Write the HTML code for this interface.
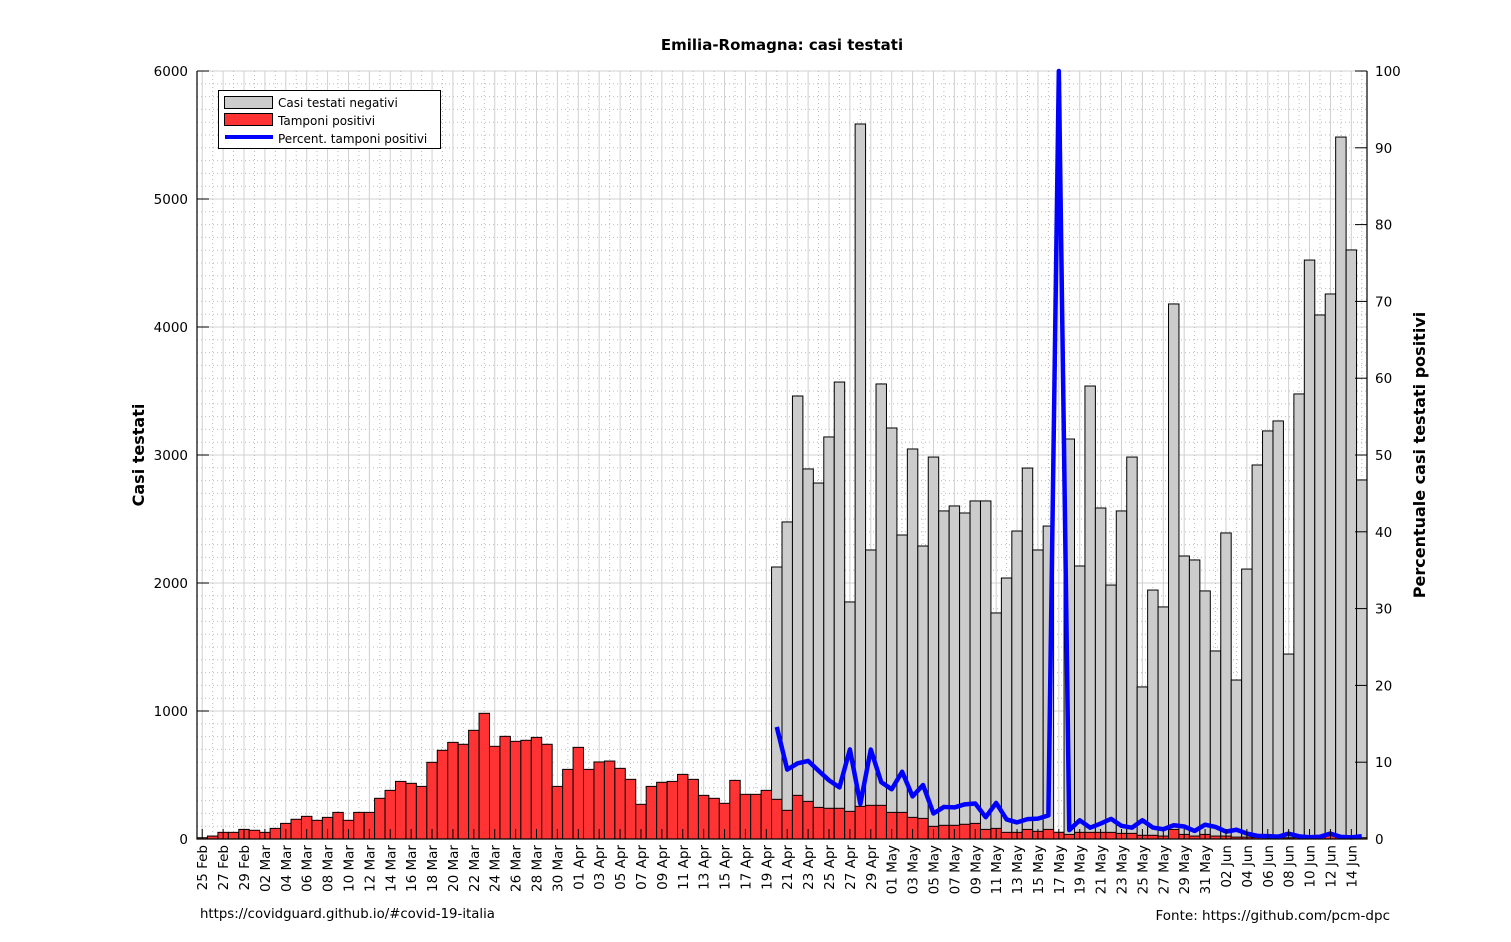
<!DOCTYPE html>
<html><head><meta charset="utf-8"><style>
body{margin:0;background:#fff;}
svg{display:block;font-family:"DejaVu Sans","Liberation Sans",sans-serif;}
</style></head><body>
<svg id="chart" width="1511" height="942" xmlns="http://www.w3.org/2000/svg">
<rect width="1511" height="942" fill="#fff"/>
<g id="grid"></g>
<g id="bars"></g>
<g id="line"></g>
<g id="axes"></g>
<text x="782" y="50" text-anchor="middle" font-size="15" font-weight="bold">Emilia-Romagna: casi testati</text>
<text transform="translate(144,455) rotate(-90)" text-anchor="middle" font-size="16" font-weight="bold">Casi testati</text>
<text transform="translate(1425,455) rotate(-90)" text-anchor="middle" font-size="16" font-weight="bold">Percentuale casi testati positivi</text>
<text x="200" y="918" font-size="13.3">https://covidguard.github.io/#covid-19-italia</text>
<text x="1390" y="920" text-anchor="end" font-size="13.5">Fonte: https://github.com/pcm-dpc</text>
<g>
<rect x="218.5" y="90.5" width="222" height="58" fill="#fff" stroke="#000"/>
<rect x="224.5" y="96.5" width="48" height="12" fill="#cccccc" stroke="#000"/>
<text x="278" y="107" font-size="12">Casi testati negativi</text>
<rect x="224.5" y="113.5" width="48" height="12" fill="#ff3333" stroke="#000"/>
<text x="278" y="125" font-size="12">Tamponi positivi</text>
<rect x="225" y="135" width="48" height="4" fill="#0000ff"/>
<text x="278" y="143" font-size="12">Percent. tamponi positivi</text>
</g>
</svg>
<script>
const startDate = [2020, 1, 25];
const positivi = [10,23,52,52,75,68,52,83,122,154,177,146,169,208,146,208,208,318,380,450,435,411,599,693,755,740,849,982,724,802,763,771,794,740,411,544,716,544,602,609,552,466,271,411,443,450,505,466,341,318,279,458,349,349,380,310,224,341,294,247,240,240,216,255,263,263,208,208,169,161,99,107,107,115,122,75,83,52,52,75,60,75,52,36,52,52,52,52,44,44,29,29,23,75,36,23,36,23,23,15,15,12,12,10,10,12,10,12,30,15,10,10];
const totali = [0,0,0,0,0,0,0,0,0,0,0,0,0,0,0,0,0,0,0,0,0,0,0,0,0,0,0,0,0,0,0,0,0,0,0,0,0,0,0,0,0,0,0,0,0,0,0,0,0,0,0,0,0,0,0,2125,2477,3461,2891,2781,3141,3570,1852,5586,2258,3555,3211,2375,3047,2289,2984,2563,2602,2547,2641,2641,1766,2039,2406,2898,2258,2445,52,3125,2133,3539,2586,1984,2563,2984,1188,1945,1813,4180,2211,2180,1938,1469,2391,1242,2109,2922,3188,3266,1445,3477,4523,4094,4258,5484,4602,2805];
const leftTicks = [0,1000,2000,3000,4000,5000,6000];
const rightTicks = [0,10,20,30,40,50,60,70,80,90,100];
const months = ["Jan","Feb","Mar","Apr","May","Jun"];

const NS="http://www.w3.org/2000/svg";
const X0=197,X1=1367,Y0=839,Y1=71,N=positivi.length,BW=(X1-X0)/N;
const yL=v=>Y0-(v/6000)*(Y0-Y1);
const yR=v=>Y0-(v/100)*(Y0-Y1);
const xC=i=>X0+BW*(i+0.5);
function mk(tag,attrs,parent){const e=document.createElementNS(NS,tag);for(const k in attrs)e.setAttribute(k,attrs[k]);parent.appendChild(e);return e;}
const grid=document.getElementById('grid'),bars=document.getElementById('bars'),lineG=document.getElementById('line'),axes=document.getElementById('axes');
for(let v=0;v<=6000;v+=100){const y=yL(v);const major=v%1000===0;
 const l=mk('line',{x1:X0,x2:X1,y1:y,y2:y,stroke:major?'#d0d0d0':'#bbbbbb','stroke-width':1,'stroke-dasharray':major?'':'1,3'},grid);
 
 }
for(let i=0;i<N;i++){const x=xC(i);const major=i%2===0;
 const l=mk('line',{x1:x,x2:x,y1:Y1,y2:Y0,stroke:major?'#d0d0d0':'#bbbbbb','stroke-width':1,'stroke-dasharray':major?'':'1,3'},grid);
 
 }
const pct=[];
for(let i=0;i<N;i++){
 const tot=totali[i];
 if(tot>0){const r=mk('rect',{x:X0+BW*i,y:yL(tot),width:BW,height:Y0-yL(tot),fill:'#cccccc',stroke:'#000','stroke-width':1},bars);
  
  
  pct.push([xC(i),yR(Math.min(100,positivi[i]/tot*100))]);}
 const p=mk('rect',{x:X0+BW*i,y:yL(positivi[i]),width:BW,height:Y0-yL(positivi[i]),fill:'#ff3333',stroke:'#000','stroke-width':1},bars);
 
 
}
const pl=mk('polyline',{points:pct.map(p=>p.join(',')).join(' '),fill:'none',stroke:'#0000ff','stroke-width':4.5,'stroke-linejoin':'round'},lineG);


const frame=mk('path',{d:`M${X0},${Y1}V${Y0}H${X1}V${Y1}`,fill:'none',stroke:'#000','stroke-width':1.2},axes);


leftTicks.forEach(v=>{const y=yL(v);
 mk('line',{x1:X0,x2:X0+12,y1:y,y2:y,stroke:'#000'},axes);
 const t=mk('text',{x:X0-9,y:y+5,'text-anchor':'end','font-size':13.5},axes);t.textContent=v;
 
 });
rightTicks.forEach(v=>{const y=yR(v);
 mk('line',{x1:X1-12,x2:X1,y1:y,y2:y,stroke:'#000'},axes);
 const t=mk('text',{x:X1+8,y:y+5,'font-size':13.5},axes);t.textContent=v;
 
 });
const d0=new Date(startDate[0],startDate[1],startDate[2]);
for(let i=0;i<N;i+=2){const x=xC(i);
 mk('line',{x1:x,x2:x,y1:Y0,y2:Y0-10,stroke:'#000'},axes);
 const d=new Date(d0.getTime());d.setDate(d0.getDate()+i);
 const lab=String(d.getDate()).padStart(2,'0')+' '+months[d.getMonth()];
 const t=mk('text',{transform:`translate(${x+5},${Y0+6}) rotate(-90)`,'text-anchor':'end','font-size':13.5},axes);t.textContent=lab;
 
 }
</script>
</body></html>
